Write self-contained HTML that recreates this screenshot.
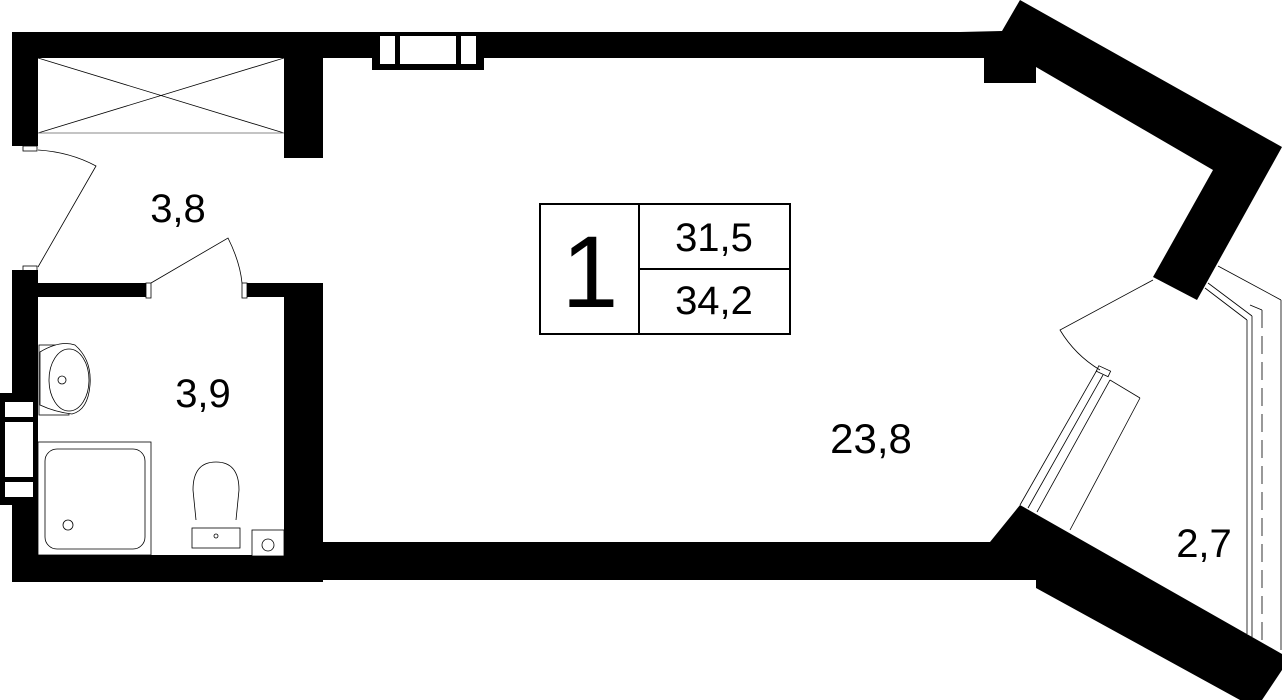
<!DOCTYPE html>
<html><head><meta charset="utf-8"><style>
html,body{margin:0;padding:0;background:#fff;}
svg{display:block;}
text{font-family:"Liberation Sans",sans-serif;fill:#000;}
</style></head><body>
<svg width="1282" height="700" viewBox="0 0 1282 700" xmlns="http://www.w3.org/2000/svg">
<!-- top wall -->
<rect x="12" y="32" width="990" height="26" fill="#000"/>
<rect x="12" y="32" width="26" height="114" fill="#000"/>
<rect x="284" y="32" width="39" height="126" fill="#000"/>
<!-- top window -->
<rect x="372" y="40" width="112" height="30" fill="#000"/>
<rect x="380" y="36" width="15" height="28" fill="#fff"/>
<rect x="400" y="36" width="56" height="28" fill="#fff"/>
<rect x="461" y="36" width="15" height="28" fill="#fff"/>
<!-- closet -->
<g stroke="#000" stroke-width="0.8" fill="none">
<line x1="38" y1="58" x2="284" y2="133"/>
<line x1="38" y1="133" x2="284" y2="58"/>
</g>
<line x1="38" y1="133" x2="284" y2="133" stroke="#888" stroke-width="1"/>
<!-- entrance door -->
<rect x="23" y="146" width="14" height="5" fill="#fff" stroke="#000" stroke-width="0.8"/>
<rect x="23" y="266" width="14" height="5" fill="#fff" stroke="#000" stroke-width="0.8"/>
<path d="M38 150 Q70 152 96 166 L38 267" fill="none" stroke="#000" stroke-width="0.8"/>
<!-- left lower wall -->
<rect x="12" y="270" width="26" height="312" fill="#000"/>
<!-- bathroom window -->
<rect x="0" y="393" width="38" height="112" fill="#000"/>
<rect x="5" y="402" width="28" height="15" fill="#fff"/>
<rect x="5" y="422" width="28" height="55" fill="#fff"/>
<rect x="5" y="482" width="28" height="15" fill="#fff"/>
<!-- bathroom top wall -->
<rect x="38" y="283" width="110" height="14" fill="#000"/>
<rect x="245" y="283" width="78" height="14" fill="#000"/>
<rect x="146" y="283" width="5" height="15" fill="#fff" stroke="#000" stroke-width="0.8"/>
<rect x="242" y="283" width="5" height="15" fill="#fff" stroke="#000" stroke-width="0.8"/>
<path d="M151 283 L228 238 Q240 262 242 283" fill="none" stroke="#000" stroke-width="0.8"/>
<!-- bathroom right wall -->
<rect x="284" y="283" width="39" height="299" fill="#000"/>
<!-- bottom walls -->
<rect x="12" y="555" width="311" height="27" fill="#000"/>
<rect x="320" y="542" width="682" height="38" fill="#000"/>
<!-- fixtures -->
<g fill="none" stroke="#000" stroke-width="0.8">
<rect x="39" y="345" width="30" height="70"/>
<path d="M40 352 Q60 340 75 345 Q92 360 90 385 Q88 410 72 414 Q55 412 40 405 Z" fill="#fff"/>
<ellipse cx="69" cy="380" rx="20" ry="31"/>
<circle cx="62" cy="380" r="4"/>
<rect x="38" y="442" width="113" height="113"/>
<rect x="45" y="449" width="100" height="100" rx="12"/>
<circle cx="68" cy="525" r="5"/>
<path d="M196 520 L193 490 Q193 462 216 462 Q239 462 239 490 L236 520"/>
<rect x="192" y="528" width="48" height="20"/>
<circle cx="216" cy="536" r="2"/>
<rect x="252" y="530" width="32" height="26" fill="#fff"/>
<circle cx="268" cy="545" r="6"/>
</g>
<!-- right walls -->
<polygon points="1002,31 1020,0 1282,147 1197,300 1153,277 1213,170 1036,67 1036,83 984,83 984,57 960,57 960,32" fill="#000"/>
<polygon points="990,542 1020,505 1282,654 1282,670 1262,700 1240,700 1036,588 1036,580 990,580" fill="#000"/>
<!-- balcony -->
<g fill="none" stroke="#000" stroke-width="0.8">
<line x1="1247" y1="320" x2="1247" y2="634"/>
<line x1="1252" y1="316" x2="1252" y2="637"/>
<line x1="1262" y1="310" x2="1262" y2="640" stroke-dasharray="18,8"/>
<line x1="1281" y1="300" x2="1281" y2="650"/>
<line x1="1218" y1="266" x2="1281" y2="300"/>
<line x1="1208" y1="283" x2="1252" y2="316"/>
<line x1="1205" y1="288" x2="1247" y2="320"/>
<line x1="1250" y1="305" x2="1262" y2="310"/>
<!-- balcony door -->
<path d="M1153 280 L1060 330 Q1075 355 1100 370"/>
<rect x="1097" y="368" width="13" height="6" transform="rotate(25 1103 371)"/>
<line x1="1097" y1="370" x2="1020" y2="505"/>
<line x1="1110" y1="380" x2="1037" y2="512"/>
<line x1="1103" y1="375" x2="1028" y2="508"/>
<line x1="1110" y1="380" x2="1140" y2="398"/>
<line x1="1140" y1="398" x2="1070" y2="530"/>
</g>
<!-- info box -->
<g fill="none" stroke="#000" stroke-width="2">
<rect x="540" y="204" width="250" height="130"/>
<line x1="639" y1="204" x2="639" y2="334"/>
<line x1="639" y1="269" x2="790" y2="269"/>
</g>
<text x="590" y="307" font-size="102" text-anchor="middle">1</text>
<text x="714" y="251" font-size="40" text-anchor="middle">31,5</text>
<text x="714" y="314" font-size="40" text-anchor="middle">34,2</text>
<!-- room labels -->
<text x="178" y="222" font-size="40" text-anchor="middle">3,8</text>
<text x="203" y="407" font-size="40" text-anchor="middle">3,9</text>
<text x="871" y="453" font-size="42" text-anchor="middle">23,8</text>
<text x="1204" y="557" font-size="40" text-anchor="middle">2,7</text>
</svg>
</body></html>
